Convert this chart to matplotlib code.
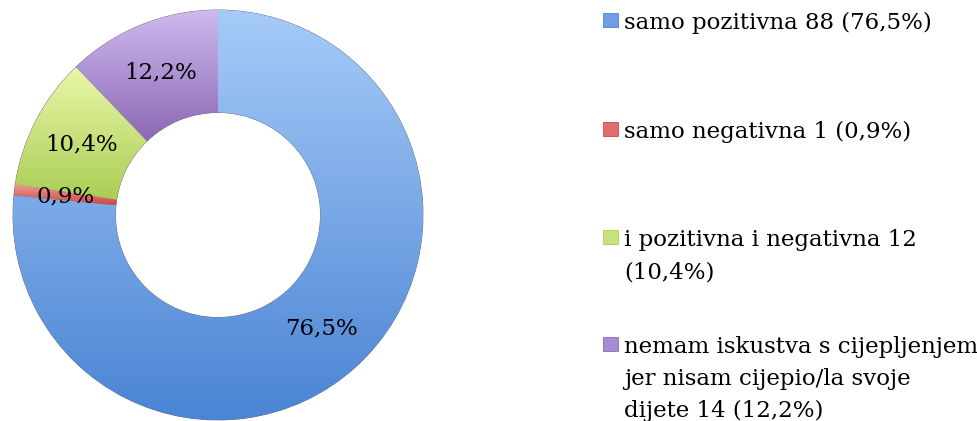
import numpy as np
import matplotlib
matplotlib.use('Agg')
import matplotlib.pyplot as plt
from matplotlib.colors import LinearSegmentedColormap
from matplotlib.patches import Rectangle

# data
labels = ['samo pozitivna 88 (76,5%)',
          'samo negativna 1 (0,9%)',
          'i pozitivna i negativna 12\n(10,4%)',
          'nemam iskustva s cijepljenjem\njer nisam cijepio/la svoje\ndijete 14 (12,2%)']
counts = [88, 1, 12, 14]
top_colors = ['#a6cbf8', '#f09a96', '#eaf7a8', '#d0baf0']
bottom_colors = ['#4a84d4', '#c84a48', '#aacd55', '#8a68b4']
base_colors = ['#6f9fe0', '#e06e6c', '#c8e27c', '#a88bd2']

W, H = 978, 421
fig = plt.figure(figsize=(W / 100, H / 100), dpi=100)
fig.patch.set_facecolor('white')

cx, cy, R = 218, 215, 205
ax = fig.add_axes([(cx - R) / W, (H - cy - R) / H, 2 * R / W, 2 * R / H])
ax.set_xlim(-1, 1)
ax.set_ylim(-1, 1)
ax.set_aspect('equal')
ax.axis('off')

wedges, texts, autotexts = ax.pie(
    counts, colors=base_colors, startangle=90, counterclock=False,
    radius=1, autopct=lambda p: f'{p:.1f}%'.replace('.', ','),
    pctdistance=0.75,
    wedgeprops=dict(width=0.5, edgecolor='#6a6a7a', linewidth=0.6),
    textprops=dict(fontsize=16.5, family='DejaVu Serif', color='black'))

# vertical gradient fill inside each wedge
for w, c1, c2 in zip(wedges, top_colors, bottom_colors):
    ext = w.get_path().get_extents()
    cmap = LinearSegmentedColormap.from_list('g', [c2, c1])
    grad = np.linspace(0, 1, 256).reshape(-1, 1)
    im = ax.imshow(grad, cmap=cmap, origin='lower', aspect='auto',
                   extent=[ext.x0, ext.x1, ext.y0, ext.y1], zorder=w.get_zorder() + 0.1)
    im.set_clip_path(w)
for t in autotexts:
    t.set_zorder(5)
ax.set_xlim(-1, 1)
ax.set_ylim(-1, 1)

# legend drawn by hand
baselines = [29.5, 138, 246, 353]
line_step = 32
text_x = 624
for lab, base, c2, c in zip(labels, baselines, bottom_colors, base_colors):
    sq_top = base - 16.5
    fig.patches.append(Rectangle((603 / W, (H - sq_top - 14) / H), 15 / W, 14 / H,
                                 transform=fig.transFigure, facecolor=c,
                                 edgecolor=c2, linewidth=0.6))
    for i, line in enumerate(lab.split('\n')):
        fig.text(text_x / W, (H - base - i * line_step) / H, line,
                 fontsize=16.5, family='DejaVu Serif', va='baseline', ha='left')

fig.savefig('out.png', dpi=100)
